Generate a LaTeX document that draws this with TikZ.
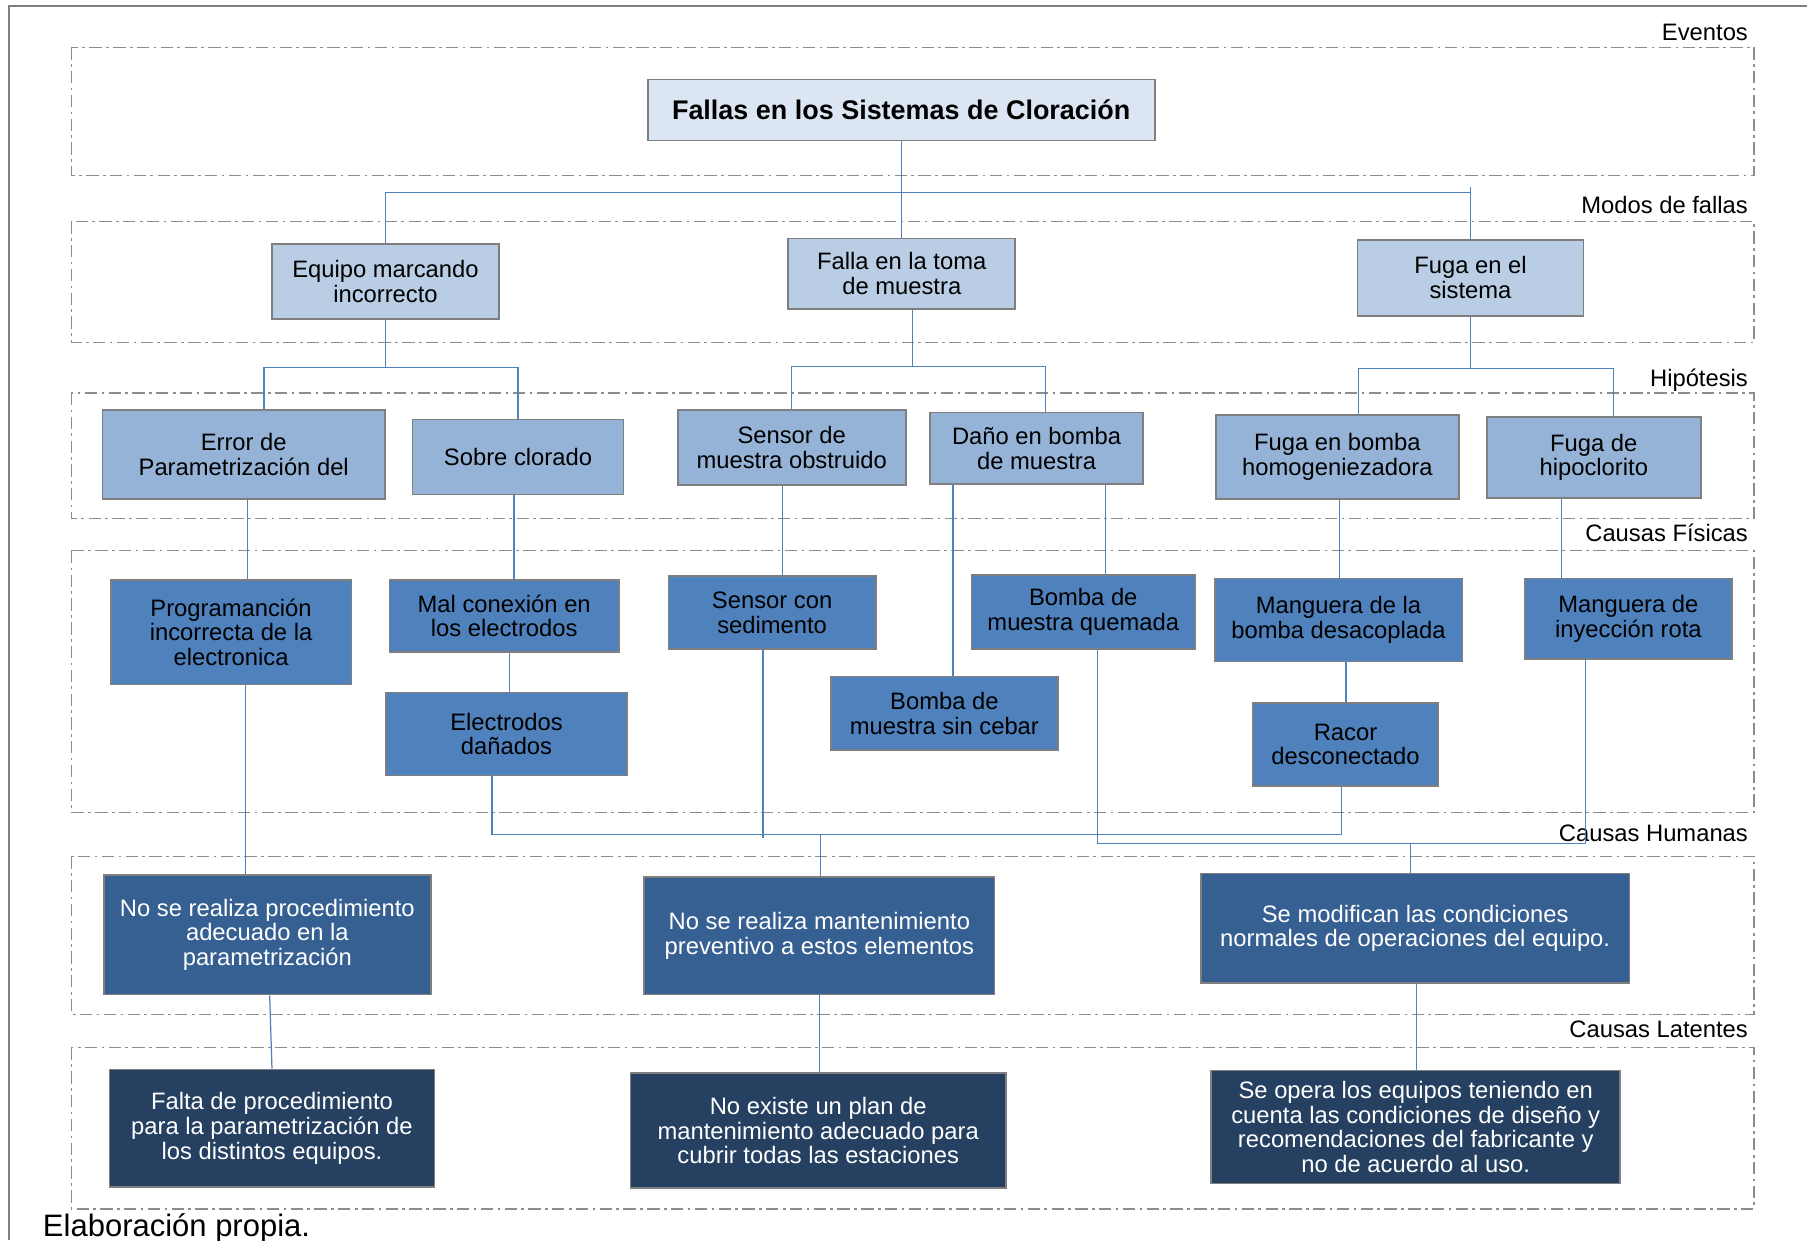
\documentclass[tikz,border=0pt]{standalone}
\usepackage{fontspec}
\setmainfont{Liberation Sans}
\usepackage{tikz}
\usetikzlibrary{calc}

\definecolor{boxline}{HTML}{7F7F7F}
\definecolor{layergray}{HTML}{8C8C8C}
\definecolor{linkblue}{HTML}{4F81BD}
\definecolor{fillA}{HTML}{DCE6F2}
\definecolor{fillB}{HTML}{B9CDE5}
\definecolor{fillC}{HTML}{95B3D7}
\definecolor{fillD}{HTML}{4F81BD}
\definecolor{fillE}{HTML}{376092}
\definecolor{fillF}{HTML}{254061}

\tikzset{
	box/.style={draw=boxline, line width=1pt, align=center, inner sep=0pt, font=\fontsize{13.5}{14}\selectfont},
	sz/.style 2 args={minimum width=#1*0.023cm, minimum height=#2*0.023cm},
	lvlA/.style={box, fill=fillA, font=\fontsize{15.3}{17}\selectfont\bfseries},
	lvlB/.style={box, fill=fillB},
	lvlC/.style={box, fill=fillC},
	lvlD/.style={box, fill=fillD},
	lvlE/.style={box, fill=fillE, text=white},
	lvlF/.style={box, fill=fillF, text=white},
	link/.style={draw=linkblue, line width=0.7pt},
	layer/.style={draw=layergray, line width=0.7pt, dash pattern=on 7pt off 2.5pt on 1.5pt off 2.5pt},
	layerlabel/.style={anchor=base east, inner sep=0pt, font=\fontsize{13.5}{14}\selectfont},
}

\begin{document}
\begin{tikzpicture}[x=0.023cm, y=-0.023cm]
			%%%%% START %%%%%
			\useasboundingbox (0,0) rectangle (1568,1076);
			\draw[boxline, line width=1pt] (8,1076) -- (8,5) -- (1568,5);
			
			%%%%% LAYERS %%%%%
			\draw[layer] (62,41) rectangle (1522,152);
			\node[layerlabel] (lEventos) at (1517,35) {Eventos};
			\draw[layer] (62,192) rectangle (1522,297);
			\node[layerlabel] (lModos) at (1517,185) {Modos de fallas};
			\draw[layer] (62,341) rectangle (1522,450);
			\node[layerlabel] (lHipotesis) at (1517,335) {Hipótesis};
			\draw[layer] (62,478) rectangle (1522,705);
			\node[layerlabel] (lFisicas) at (1517,470) {Causas Físicas};
			\draw[layer] (62,743) rectangle (1522,880);
			\node[layerlabel] (lHumanas) at (1517,730) {Causas Humanas};
			\draw[layer] (62,909) rectangle (1522,1049);
			\node[layerlabel] (lLatentes) at (1517,900) {Causas Latentes};
			
			%%%%% NODES %%%%%
			\node[lvlA, sz={440}{53}] (title) at (782,95.5) {Fallas en los Sistemas de Cloración};
			
			\node[lvlB, sz={197}{65}] (equipo) at (334.5,244.5) {Equipo marcando\\incorrecto};
			\node[lvlB, sz={197}{61}] (falla) at (782.5,237.5) {Falla en la toma\\de muestra};
			\node[lvlB, sz={196}{66}] (fuga) at (1276,241) {Fuga en el\\sistema};
			
			\node[lvlC, sz={245}{77}] (error) at (211.5,394.5) {Error de\\Parametrización del};
			\node[lvlC, sz={183}{65}] (sobre) at (449.5,396.5) {Sobre clorado};
			\node[lvlC, sz={198}{65}] (sensor) at (687,388.5) {Sensor de\\muestra obstruido};
			\node[lvlC, sz={185}{62}] (dano) at (899.5,389) {Daño en bomba\\de muestra};
			\node[lvlC, sz={211}{73}] (fugabomba) at (1160.5,396.5) {Fuga en bomba\\homogeniezadora};
			\node[lvlC, sz={186}{70}] (fugahipo) at (1383,397) {Fuga de\\hipoclorito};
			
			\node[lvlD, sz={209}{91}] (prog) at (200.5,548.5) {Programanción\\incorrecta de la\\electronica};
			\node[lvlD, sz={199}{63}] (malcon) at (437.5,534.5) {Mal conexión en\\los electrodos};
			\node[lvlD, sz={209}{72}] (electro) at (439.5,637) {Electrodos\\dañados};
			\node[lvlD, sz={180}{63}] (sedim) at (670,531.5) {Sensor con\\sedimento};
			\node[lvlD, sz={197}{64}] (cebar) at (819.5,619) {Bomba de\\muestra sin cebar};
			\node[lvlD, sz={194}{64}] (quemada) at (940,531) {Bomba de\\muestra quemada};
			\node[lvlD, sz={215}{72}] (mangbomba) at (1161.5,538) {Manguera de la\\bomba desacoplada};
			\node[lvlD, sz={161}{72}] (racor) at (1167.5,646) {Racor\\desconectado};
			\node[lvlD, sz={180}{70}] (manginy) at (1413,537) {Manguera de\\inyección rota};
			
			\node[lvlE, sz={284}{104}] (noproc) at (232,811) {No se realiza procedimiento\\adecuado en la\\parametrización};
			\node[lvlE, sz={304}{102}] (nomant) at (711,812) {No se realiza mantenimiento\\preventivo a estos elementos};
			\node[lvlE, sz={372}{95}] (semod) at (1228,805.5) {Se modifican las condiciones\\normales de operaciones del equipo.};
			
			\node[lvlF, sz={282}{102}] (falta) at (236,979) {Falta de procedimiento\\para la parametrización de\\los distintos equipos.};
			\node[lvlF, sz={326}{100}] (noplan) at (710,981) {No existe un plan de\\mantenimiento adecuado para\\cubrir todas las estaciones};
			\node[lvlF, sz={355}{98}] (seopera) at (1228.5,978) {Se opera los equipos teniendo en\\cuenta las condiciones de diseño y\\recomendaciones del fabricante y\\no de acuerdo al uso.};
			
			\node[anchor=base west, inner sep=0pt, font=\fontsize{17.6}{19}\selectfont] (caption) at (37,1073) {Elaboración propia.};
			
			%%%%% LINKS %%%%%
			\coordinate (bus1) at (0,167);
			\draw[link] (title.south) -- (title.south |- falla.north);
			\draw[link] (equipo.north) |- (falla.north |- bus1) -| (fuga.north);
			\draw[link] (fuga.north |- bus1) -- ($(fuga.north |- bus1)+(0,-5)$);
			
			\coordinate (bus2a) at (0,319);
			\draw[link] (equipo.south) -- (equipo.south |- bus2a);
			\draw[link] (error.north -| 229,0) |- (sobre.north |- bus2a) -- (sobre.north);
			\coordinate (bus2b) at (0,318);
			\draw[link] (falla.south -| 792,0) -- (792,318);
			\draw[link] (sensor.north) |- (907,318) -- (dano.north -| 907,0);
			\coordinate (bus2c) at (0,320);
			\draw[link] (fuga.south) -- (fuga.south |- bus2c);
			\draw[link] (fugabomba.north -| 1179,0) |- (1400,320) -- (fugahipo.north -| 1400,0);
			
			\draw[link] (error.south -| 215,0) -- (prog.north -| 215,0);
			\draw[link] (sobre.south -| 446,0) -- (malcon.north -| 446,0);
			\draw[link] (malcon.south -| 442,0) -- (electro.north -| 442,0);
			\draw[link] (sensor.south -| 679,0) -- (sedim.north -| 679,0);
			\draw[link] (dano.south -| 827,0) -- (cebar.north -| 827,0);
			\draw[link] (dano.south -| 959,0) -- (quemada.north -| 959,0);
			\draw[link] (fugabomba.south -| 1162,0) -- (mangbomba.north -| 1162,0);
			\draw[link] (mangbomba.south -| 1168,0) -- (racor.north -| 1168,0);
			\draw[link] (fugahipo.south -| 1355,0) -- (manginy.north -| 1355,0);
			
			\draw[link] (prog.south -| 213,0) -- (noproc.north -| 213,0);
			\draw[link] (electro.south -| 427,0) -- (427,724) -| (racor.south -| 1164,0);
			\draw[link] (sedim.south -| 662,0) -- (662,727);
			\draw[link] (nomant.north -| 712,0) -- (712,724);
			\draw[link] (quemada.south -| 952,0) -- (952,732) -| (manginy.south -| 1376,0);
			\draw[link] (semod.north -| 1224,0) -- (1224,732);
			
			\draw[link] (noproc.south -| 234,0) -- (falta.north -| 236,0);
			\draw[link] (nomant.south -| 711,0) -- (noplan.north -| 711,0);
			\draw[link] (semod.south -| 1229,0) -- (seopera.north -| 1229,0);
			%%%%% END %%%%%
\end{tikzpicture}
\end{document}
